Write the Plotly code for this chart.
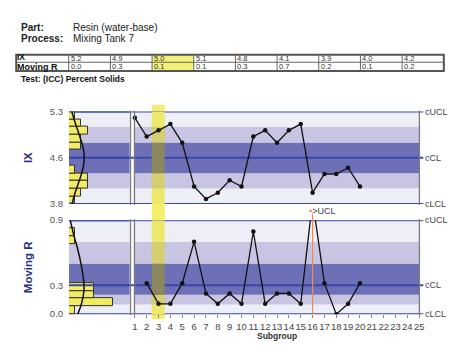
import plotly.graph_objects as go

# ---------------- data ----------------
subgroups = list(range(1, 21))
ix_values = [5.2, 4.9, 5.0, 5.1, 4.8, 4.1, 3.9, 4.0, 4.2, 4.1,
             4.9, 5.0, 4.8, 5.0, 5.1, 4.0, 4.3, 4.3, 4.4, 4.1]
mr_subgroups = list(range(2, 21))
mr_values = [0.3, 0.1, 0.1, 0.3, 0.7, 0.2, 0.1, 0.2, 0.1,
             0.8, 0.1, 0.2, 0.2, 0.1, 1.1, 0.3, 0.0, 0.1, 0.3]
x_ticks = list(range(1, 26))

table_ix = [5.2, 4.9, 5.0, 5.1, 4.8, 4.1, 3.9, 4.0, 4.2]
table_mr = [0.0, 0.3, 0.1, 0.1, 0.3, 0.7, 0.2, 0.1, 0.2]
highlight_col = 3

ix_lcl, ix_cl, ix_ucl = 3.82, 4.56, 5.30
ix_tick_text = ["3.8", "4.6", "5.3"]
mr_lcl, mr_cl, mr_ucl = 0.0, 0.28, 0.91
mr_tick_text = ["0.0", "0.3", "0.9"]
limit_labels = ["cLCL", "cCL", "cUCL"]

# fitted-curve points (value, count)
ix_curve_vals = [5.30, 5.15, 5.00, 4.85, 4.70, 4.56, 4.42, 4.27, 4.12, 3.97, 3.82]
ix_curve_counts = [0.45, 0.9, 1.4, 1.9, 2.3, 2.45, 2.3, 1.9, 1.4, 0.9, 0.5]
mr_curve_vals = [0.91, 0.77, 0.64, 0.48, 0.32, 0.23, 0.10, 0.0]
mr_curve_counts = [0.2, 0.75, 1.35, 1.95, 2.35, 2.4, 2.0, 1.4]

# ---------------- styling ----------------
W, H = 469, 356
OFF = 8  # page offset of the figure in the browser
def X(px): return (px - OFF) / W
def Y(py): return 1 - (py - OFF) / H

LIGHT, MED, DARK = "#eeeef7", "#c8c5e2", "#6d6fb7"
BLUE = "#3848a8"
Y_WHITE, Y_LIGHT, Y_MED, Y_DARK = "#f3ef6c", "#ece86a", "#d3ce6e", "#8b885f"
NARROW = "Liberation Sans Narrow, Arial Narrow, Liberation Sans, Arial"
SANS = "Liberation Sans, Arial"

hist_l, hist_r = 67, 128.7
main_l, main_r = 134, 423.3
top_t, top_b = 108.7, 204
bot_t, bot_b = 220.7, 317.7
hist_max = (hist_r - hist_l) / 6.35
hl_x0, hl_x1 = 2.42, 3.52

fig = go.Figure()

# histograms
fig.add_trace(go.Histogram(
    y=ix_values, ybins=dict(start=ix_lcl, end=ix_ucl, size=(ix_ucl - ix_lcl) / 12),
    xaxis="x2", yaxis="y2", marker=dict(color="#f2ec62", line=dict(color="#333", width=1)),
    showlegend=False))
fig.add_trace(go.Histogram(
    y=[v for v in mr_values if v <= mr_ucl],
    ybins=dict(start=mr_lcl, end=mr_ucl, size=(mr_ucl - mr_lcl) / 12),
    xaxis="x4", yaxis="y4", marker=dict(color="#f2ec62", line=dict(color="#333", width=1)),
    showlegend=False))
# limit lines over the histogram bars
for lim, ax in [(ix_lcl, ("x2", "y2")), (ix_cl, ("x2", "y2")), (ix_ucl, ("x2", "y2")),
                (mr_cl, ("x4", "y4")), (mr_ucl, ("x4", "y4"))]:
    fig.add_trace(go.Scatter(x=[0, hist_max], y=[lim, lim], mode="lines",
                             line=dict(color=BLUE, width=2), xaxis=ax[0], yaxis=ax[1],
                             showlegend=False, hoverinfo="skip"))
# fitted curves
fig.add_trace(go.Scatter(x=ix_curve_counts, y=ix_curve_vals, mode="lines",
                         line=dict(color="#111", width=1.5, shape="spline"),
                         xaxis="x2", yaxis="y2", showlegend=False))
fig.add_trace(go.Scatter(x=mr_curve_counts, y=mr_curve_vals, mode="lines",
                         line=dict(color="#111", width=1.5, shape="spline"),
                         xaxis="x4", yaxis="y4", showlegend=False))

# main series
fig.add_trace(go.Scatter(x=subgroups, y=ix_values, mode="lines+markers",
                         line=dict(color="#111", width=1.3), marker=dict(size=4.5, color="#111"),
                         xaxis="x", yaxis="y", cliponaxis=False, showlegend=False))
fig.add_trace(go.Scatter(x=mr_subgroups, y=mr_values, mode="lines+markers",
                         line=dict(color="#111", width=1.3), marker=dict(size=4.5, color="#111"),
                         xaxis="x3", yaxis="y3", showlegend=False))

shapes = []
def zone_edges(lcl, cl, ucl):
    up = (ucl - cl) / 3
    dn = (cl - lcl) / 3
    return [(lcl, lcl + dn, LIGHT, Y_LIGHT), (lcl + dn, lcl + 2 * dn, MED, Y_MED),
            (lcl + 2 * dn, cl + up, DARK, Y_DARK), (cl + up, cl + 2 * up, MED, Y_MED),
            (cl + 2 * up, ucl, LIGHT, Y_LIGHT)]

for xref, yref, (lcl, cl, ucl) in [("x2 domain", "y2", (ix_lcl, ix_cl, ix_ucl)),
                                   ("x domain", "y", (ix_lcl, ix_cl, ix_ucl)),
                                   ("x4 domain", "y4", (mr_lcl, mr_cl, mr_ucl)),
                                   ("x3 domain", "y3", (mr_lcl, mr_cl, mr_ucl))]:
    for a, b, col, _ in zone_edges(lcl, cl, ucl):
        shapes.append(dict(type="rect", xref=xref, yref=yref, x0=0, x1=1, y0=a, y1=b,
                           fillcolor=col, line=dict(width=0), layer="below"))

# yellow highlight column
for xref, yref, (lcl, cl, ucl) in [("x", "y", (ix_lcl, ix_cl, ix_ucl)),
                                   ("x3", "y3", (mr_lcl, mr_cl, mr_ucl))]:
    for a, b, _, ycol in zone_edges(lcl, cl, ucl):
        shapes.append(dict(type="rect", xref=xref, yref=yref, x0=hl_x0, x1=hl_x1, y0=a, y1=b,
                           fillcolor=ycol, line=dict(width=0), layer="below"))
for p0, p1 in [(102, top_t), (top_b, bot_t), (bot_b, 323)]:
    shapes.append(dict(type="rect", xref="x", yref="paper", x0=hl_x0, x1=hl_x1,
                       y0=Y(p1), y1=Y(p0), fillcolor=Y_WHITE, line=dict(width=0), layer="below"))

# limit lines across both panels
for yref, lims in [("y", (ix_lcl, ix_cl, ix_ucl)), ("y3", (mr_lcl, mr_cl, mr_ucl))]:
    for lim in lims:
        shapes.append(dict(type="line", xref="paper", yref=yref, x0=X(hist_l), x1=X(427.5),
                           y0=lim, y1=lim, line=dict(color=BLUE, width=2), layer="below"))

# gray frame lines
for t, b in [(top_t, top_b), (bot_t, bot_b)]:
    for px in (129.6, 133.6, 423.5):
        shapes.append(dict(type="line", xref="paper", yref="paper", x0=X(px), x1=X(px),
                           y0=Y(b + 1), y1=Y(t - 1), line=dict(color="#7a7a7a", width=1.3)))

# orange out-of-control marker line
shapes.append(dict(type="line", xref="x3", yref="paper", x0=16, x1=16, y0=Y(bot_b), y1=Y(214),
                   line=dict(color="#f08a4b", width=1.2)))

# table
tab_l, tab_r, tab_t, tab_m, tab_b = 13.3, 448.3, 50, 57.8, 66.7
col0 = 66.7
colw = (tab_r - col0) / 9
shapes.append(dict(type="rect", xref="paper", yref="paper",
                   x0=X(col0 + colw * (highlight_col - 1)), x1=X(col0 + colw * highlight_col),
                   y0=Y(tab_b), y1=Y(tab_t), fillcolor="#f4f07a", line=dict(width=0)))
shapes.append(dict(type="line", xref="paper", yref="paper", x0=X(tab_l), x1=X(tab_r),
                   y0=Y(tab_m), y1=Y(tab_m), line=dict(color="#666", width=1)))
for i in range(10):
    px = col0 + colw * i
    shapes.append(dict(type="line", xref="paper", yref="paper", x0=X(px), x1=X(px),
                       y0=Y(tab_b), y1=Y(tab_t), line=dict(color="#666", width=1)))
shapes.append(dict(type="rect", xref="paper", yref="paper", x0=X(tab_l), x1=X(tab_r),
                   y0=Y(tab_b), y1=Y(tab_t), line=dict(color="#555", width=2)))

ann = []
def txt(px, py, s, size=10, color="#222", bold=False, family=SANS, xanchor="left", **kw):
    if bold:
        s = "<b>" + s + "</b>"
    ann.append(dict(x=X(px), y=Y(py), xref="paper", yref="paper", text=s, showarrow=False,
                    xanchor=xanchor, yanchor="middle", borderpad=0,
                    font=dict(size=size, color=color, family=family), **kw))

txt(17, 21.7, "Part:", 10, bold=True)
txt(70.5, 21.7, "Resin (water-base)", 10)
txt(17, 33.3, "Process:", 10, bold=True)
txt(70.5, 33.3, "Mixing Tank 7", 10)
txt(13.5, 52.8, "IX", 8.5, color="#111", bold=True)
txt(13.5, 63.0, "Moving R", 9, color="#111", bold=True)
for i in range(9):
    px = col0 + colw * i + 1
    txt(px, 53.6, f"{table_ix[i]:.1f}", 7.5, color="#333")
    txt(px, 62.6, f"{table_mr[i]:.1f}", 7.5, color="#333")
txt(17, 74.8, "Test: (ICC) Percent Solids", 8.5, color="#111", bold=True)

# axis titles
ann.append(dict(x=X(25.5), y=Y(156.5), xref="paper", yref="paper", text="<b>IX</b>", showarrow=False,
                textangle=-90, xanchor="center", yanchor="middle",
                font=dict(size=11.5, color="#2b2e86", family=SANS)))
ann.append(dict(x=X(25.5), y=Y(269), xref="paper", yref="paper", text="<b>Moving R</b>", showarrow=False,
                textangle=-90, xanchor="center", yanchor="middle",
                font=dict(size=11.5, color="#2b2e86", family=SANS)))
txt(278.5, 340, "Subgroup", 8.5, color="#333", bold=True, xanchor="center")

# right limit labels
for yref, lims in [("y", (ix_lcl, ix_cl, ix_ucl)), ("y3", (mr_lcl, mr_cl, mr_ucl))]:
    for lab, lim in zip(limit_labels, lims):
        ann.append(dict(x=X(427.5), y=lim, xref="paper", yref=yref, text=lab, showarrow=False,
                        xanchor="left", yanchor="middle",
                        font=dict(size=9, color="#444", family=NARROW)))

txt(310, 211.5, "<span style='color:#f08a4b'>•</span>>UCL", 9, color="#444", family=NARROW)

axis_common = dict(showgrid=False, zeroline=False, showline=False)
fig.update_layout(
    width=W, height=H, margin=dict(l=0, r=0, t=0, b=0),
    paper_bgcolor="white", plot_bgcolor="rgba(0,0,0,0)",
    bargap=0, showlegend=False, shapes=shapes, annotations=ann,
    xaxis=dict(domain=[X(main_l), X(main_r)], range=[1, 25], anchor="y",
               showticklabels=False, ticks="", **axis_common),
    yaxis=dict(domain=[Y(top_b), Y(top_t)], range=[ix_lcl, ix_ucl], anchor="x",
               showticklabels=False, ticks="", **axis_common),
    xaxis2=dict(domain=[X(hist_l), X(hist_r)], range=[0, hist_max], anchor="y2", visible=False),
    yaxis2=dict(domain=[Y(top_b), Y(top_t)], range=[ix_lcl, ix_ucl], anchor="x2",
                tickvals=[ix_lcl, ix_cl, ix_ucl], ticktext=ix_tick_text, ticks="outside",
                ticklen=3, tickcolor="rgba(0,0,0,0)",
                tickfont=dict(size=9.5, color="#555", family=NARROW), **axis_common),
    xaxis3=dict(domain=[X(main_l), X(main_r)], range=[1, 25], anchor="y3",
                tickvals=x_ticks, ticktext=[str(t) for t in x_ticks], ticks="outside",
                ticklen=3, tickcolor="#888", tickangle=0,
                tickfont=dict(size=9.5, color="#444", family=NARROW), **axis_common),
    yaxis3=dict(domain=[Y(bot_b), Y(bot_t)], range=[mr_lcl, mr_ucl], anchor="x3",
                showticklabels=False, ticks="", **axis_common),
    xaxis4=dict(domain=[X(hist_l), X(hist_r)], range=[0, hist_max], anchor="y4", visible=False),
    yaxis4=dict(domain=[Y(bot_b), Y(bot_t)], range=[mr_lcl, mr_ucl], anchor="x4",
                tickvals=[mr_lcl, mr_cl, mr_ucl], ticktext=mr_tick_text, ticks="outside",
                ticklen=3, tickcolor="rgba(0,0,0,0)",
                tickfont=dict(size=9.5, color="#555", family=NARROW), **axis_common),
)

fig.write_html("out.html")
